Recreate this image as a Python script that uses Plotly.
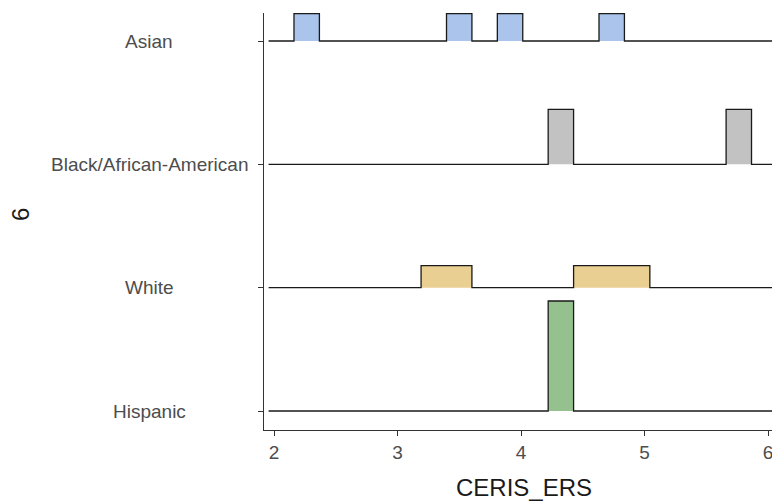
import numpy as np
import plotly.graph_objects as go

# ---- data ----
groups = ["Hispanic", "White", "Black/African-American", "Asian"]   # bottom -> top
fills = ["#95c18e", "#eacf93", "#c2c2c2", "#aac4ec"]
bin_start = 1.956
bin_width = 0.2058
n_bins = 20
# counts per bin (index 0 .. 19) for each group
counts = {
    "Hispanic":               {11: 1},
    "White":                  {6: 1, 7: 1, 12: 1, 13: 1, 14: 1},
    "Black/African-American": {11: 1, 18: 1},
    "Asian":                  {1: 1, 7: 1, 9: 1, 13: 1},
}
x_ticks = [2, 3, 4, 5, 6]
x_title = "CERIS_ERS"
y_title = "6"
ridge_scale = 0.892   # height (in category units) of a bin holding 100% of a group

edges = bin_start + bin_width * np.arange(n_bins + 1)

fig = go.Figure()
for gi, g in enumerate(groups):
    base = gi + 1
    c = np.zeros(n_bins)
    for k, v in counts[g].items():
        c[k] = v
    h = c / c.sum() * ridge_scale
    xs, ys = [], []
    for i in range(n_bins):
        xs += [edges[i], edges[i + 1]]
        ys += [base + h[i], base + h[i]]
    # fill polygon (no outline)
    fx = xs + [edges[-1], edges[0]]
    fy = ys + [base, base]
    fig.add_trace(go.Scatter(x=fx, y=fy, mode="lines", fill="toself",
                             fillcolor=fills[gi], line=dict(width=0),
                             hoverinfo="skip", showlegend=False))
    fig.add_trace(go.Scatter(x=xs, y=ys, mode="lines",
                             line=dict(color="#1a1a1a", width=1.3),
                             hoverinfo="skip", showlegend=False))

W, H = 772, 502
ml, mr, mt, mb = 264, 0, 13, 72
pw, ph = W - ml - mr, H - mt - mb
fig.update_layout(
    width=W, height=H,
    margin=dict(l=ml, r=mr, t=mt, b=mb),
    paper_bgcolor="white", plot_bgcolor="white",
    font=dict(family="Liberation Sans, Arial, sans-serif", color="#4d4d4d", size=19),
    xaxis=dict(range=[1.919, 6.032], tickvals=x_ticks, ticks="outside", ticklen=5,
               tickcolor="#333333", showgrid=False, zeroline=False,
               showline=True, linecolor="#333333", linewidth=1.1,
               ticklabeloverflow="allow",
               tickfont=dict(size=19, color="#4d4d4d")),
    yaxis=dict(range=[0.846, 4.227], tickvals=[1, 2, 3, 4],
               ticktext=["" for _ in groups],
               ticks="outside", ticklen=5, tickcolor="#333333",
               showgrid=False, zeroline=False, showline=True,
               linecolor="#333333", linewidth=1.1),
)
# centred category labels (as in the reference)
for gi, g in enumerate(groups):
    fig.add_annotation(text=g, xref="paper", yref="y",
                       x=(149 - ml) / pw, y=gi + 1,
                       xanchor="center", yanchor="middle", showarrow=False,
                       font=dict(size=19, color="#4d4d4d"))
fig.add_annotation(text=x_title, xref="paper", yref="paper",
                   x=(524 - ml) / pw, y=-(487 - (H - mb)) / ph,
                   xanchor="center", yanchor="middle", showarrow=False,
                   font=dict(size=24, color="#1a1a1a"))
fig.add_annotation(text=y_title, xref="paper", yref="paper",
                   x=(20 - ml) / pw, y=1 - (215 - mt) / ph, textangle=-90,
                   xanchor="center", yanchor="middle", showarrow=False,
                   font=dict(size=24, color="#1a1a1a"))
fig.write_html("out.html")
